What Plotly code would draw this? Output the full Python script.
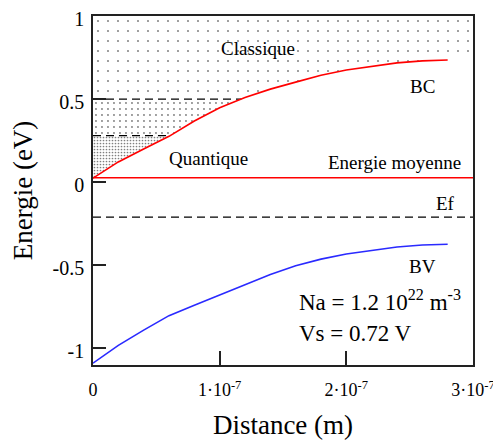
import numpy as np
import plotly.graph_objects as go

# ---- data ----
distance = [0.0, 0.2e-7, 0.4e-7, 0.6e-7, 0.8e-7, 1.0e-7, 1.2e-7, 1.4e-7,
            1.6e-7, 1.8e-7, 2.0e-7, 2.2e-7, 2.4e-7, 2.6e-7, 2.8e-7]
bc = [0.024, 0.122, 0.200, 0.276, 0.368, 0.448, 0.509, 0.560,
      0.602, 0.643, 0.675, 0.697, 0.718, 0.730, 0.735]
bv = [-1.089, -0.982, -0.890, -0.803, -0.740, -0.680, -0.620, -0.556,
      -0.503, -0.463, -0.432, -0.410, -0.390, -0.378, -0.373]
x_max = 3e-7
e_moy = 0.027
ef = -0.21
lim_classique = 0.5
lim_quantique = 0.28
y_top = 1.0
y_bottom = -1.1

x_ticks = [0, 1e-7, 2e-7, 3e-7]
x_ticktext = ["0", "1·10<sup>-7</sup>", "2·10<sup>-7</sup>", "3·10<sup>-7</sup>"]
y_ticks = [1, 0.5, 0, -0.5, -1]
y_ticktext = ["1", "0.5", "0", "-0.5", "-1"]

FONT = "Liberation Serif, Times New Roman, serif"

d = np.array(distance)
b = np.array(bc)
x50 = float(np.interp(lim_classique, b, d))
x28 = float(np.interp(lim_quantique, b, d))

fig = go.Figure()

# sparse dotted region (classique)
m = b > lim_classique
xs = [0, x_max, x_max] + list(d[m][::-1]) + [x50, 0]
ys = [y_top, y_top, b[-1]] + list(b[m][::-1]) + [lim_classique, lim_classique]
fig.add_trace(go.Scatter(x=xs, y=ys, fill="toself", mode="lines", line=dict(width=0),
                         fillcolor="white",
                         fillpattern=dict(shape=".", size=10, solidity=0.03,
                                          fgcolor="black", bgcolor="white"),
                         hoverinfo="skip", showlegend=False))
# medium dotted region
m = (b > lim_quantique) & (b < lim_classique)
xs = [0, x28] + list(d[m]) + [x50, 0]
ys = [lim_quantique, lim_quantique] + list(b[m]) + [lim_classique, lim_classique]
fig.add_trace(go.Scatter(x=xs, y=ys, fill="toself", mode="lines", line=dict(width=0),
                         fillcolor="white",
                         fillpattern=dict(shape=".", size=6, solidity=0.08,
                                          fgcolor="black", bgcolor="white"),
                         hoverinfo="skip", showlegend=False))
# dense dotted region (quantique)
m = b < lim_quantique
xs = list(d[m]) + [x28, 0]
ys = list(b[m]) + [lim_quantique, lim_quantique]
fig.add_trace(go.Scatter(x=xs, y=ys, fill="toself", mode="lines", line=dict(width=0),
                         fillcolor="white",
                         fillpattern=dict(shape=".", size=3, solidity=0.25,
                                          fgcolor="black", bgcolor="white"),
                         hoverinfo="skip", showlegend=False))

dash = "8px,5px"
# dashed limits
fig.add_trace(go.Scatter(x=[0, x50], y=[lim_classique] * 2, mode="lines",
                         line=dict(color="black", width=1.3, dash=dash),
                         hoverinfo="skip", showlegend=False))
fig.add_trace(go.Scatter(x=[0, x28], y=[lim_quantique] * 2, mode="lines",
                         line=dict(color="black", width=1.3, dash=dash),
                         hoverinfo="skip", showlegend=False))
fig.add_trace(go.Scatter(x=[0, x_max], y=[ef] * 2, mode="lines",
                         line=dict(color="black", width=1.3, dash=dash),
                         hoverinfo="skip", showlegend=False))
# mean energy
fig.add_trace(go.Scatter(x=[0, x_max], y=[e_moy] * 2, mode="lines",
                         line=dict(color="#ff0000", width=1.6),
                         hoverinfo="skip", showlegend=False))
# bands
fig.add_trace(go.Scatter(x=distance, y=bc, mode="lines",
                         line=dict(color="#ff0000", width=1.6),
                         showlegend=False))
fig.add_trace(go.Scatter(x=distance, y=bv, mode="lines",
                         line=dict(color="#2a2aff", width=1.6),
                         showlegend=False))

ann = [
    ("Classique", 1.30e-7, 0.807, "center", 19),
    ("BC", 2.605e-7, 0.578, "center", 19),
    ("Quantique", 0.908e-7, 0.145, "center", 19),
    ("Energie moyenne", 2.384e-7, 0.12, "center", 19),
    ("Ef", 2.78e-7, -0.127, "center", 19),
    ("BV", 2.60e-7, -0.506, "center", 19),
    ("Na = 1.2 10<sup>22</sup> m<sup>-3</sup>", 1.61e-7, -0.71, "left", 23),
    ("Vs = 0.72 V", 1.61e-7, -0.91, "left", 23),
]
for text, x, y, xa, fs in ann:
    fig.add_annotation(x=x, y=y, text=text, showarrow=False, xanchor=xa, yanchor="middle",
                       font=dict(family=FONT, size=fs, color="black"))

# the page body adds an 8px margin, so the figure is 8px smaller on each side
fig.update_layout(
    width=493, height=435,
    margin=dict(l=85, r=28, t=8, b=78),
    paper_bgcolor="white", plot_bgcolor="white",
    font=dict(family=FONT, color="black"),
)
fig.update_xaxes(range=[0, x_max], tickvals=x_ticks, ticktext=x_ticktext,
                 ticks="inside", ticklen=14, tickwidth=1.5, tickcolor="#222",
                 showline=True, linecolor="#222", linewidth=1.5, mirror=True,
                 showgrid=False, zeroline=False, ticklabelstandoff=8,
                 automargin=False, ticklabeloverflow="allow",
                 tickfont=dict(family=FONT, size=18),
                 title=dict(text="Distance (m)", font=dict(family=FONT, size=27), standoff=16))
fig.update_yaxes(range=[y_bottom, y_top], tickvals=y_ticks, ticktext=y_ticktext,
                 ticks="inside", ticklen=13, tickwidth=1.5, tickcolor="#222",
                 showline=True, linecolor="#222", linewidth=1.5, mirror=True,
                 showgrid=False, zeroline=False, ticklabelstandoff=3,
                 ticklabelshift=3, automargin=False, ticklabeloverflow="allow",
                 tickfont=dict(family=FONT, size=20),
                 title=dict(text="Energie (eV)", font=dict(family=FONT, size=27), standoff=12))

fig.write_html("out.html")
